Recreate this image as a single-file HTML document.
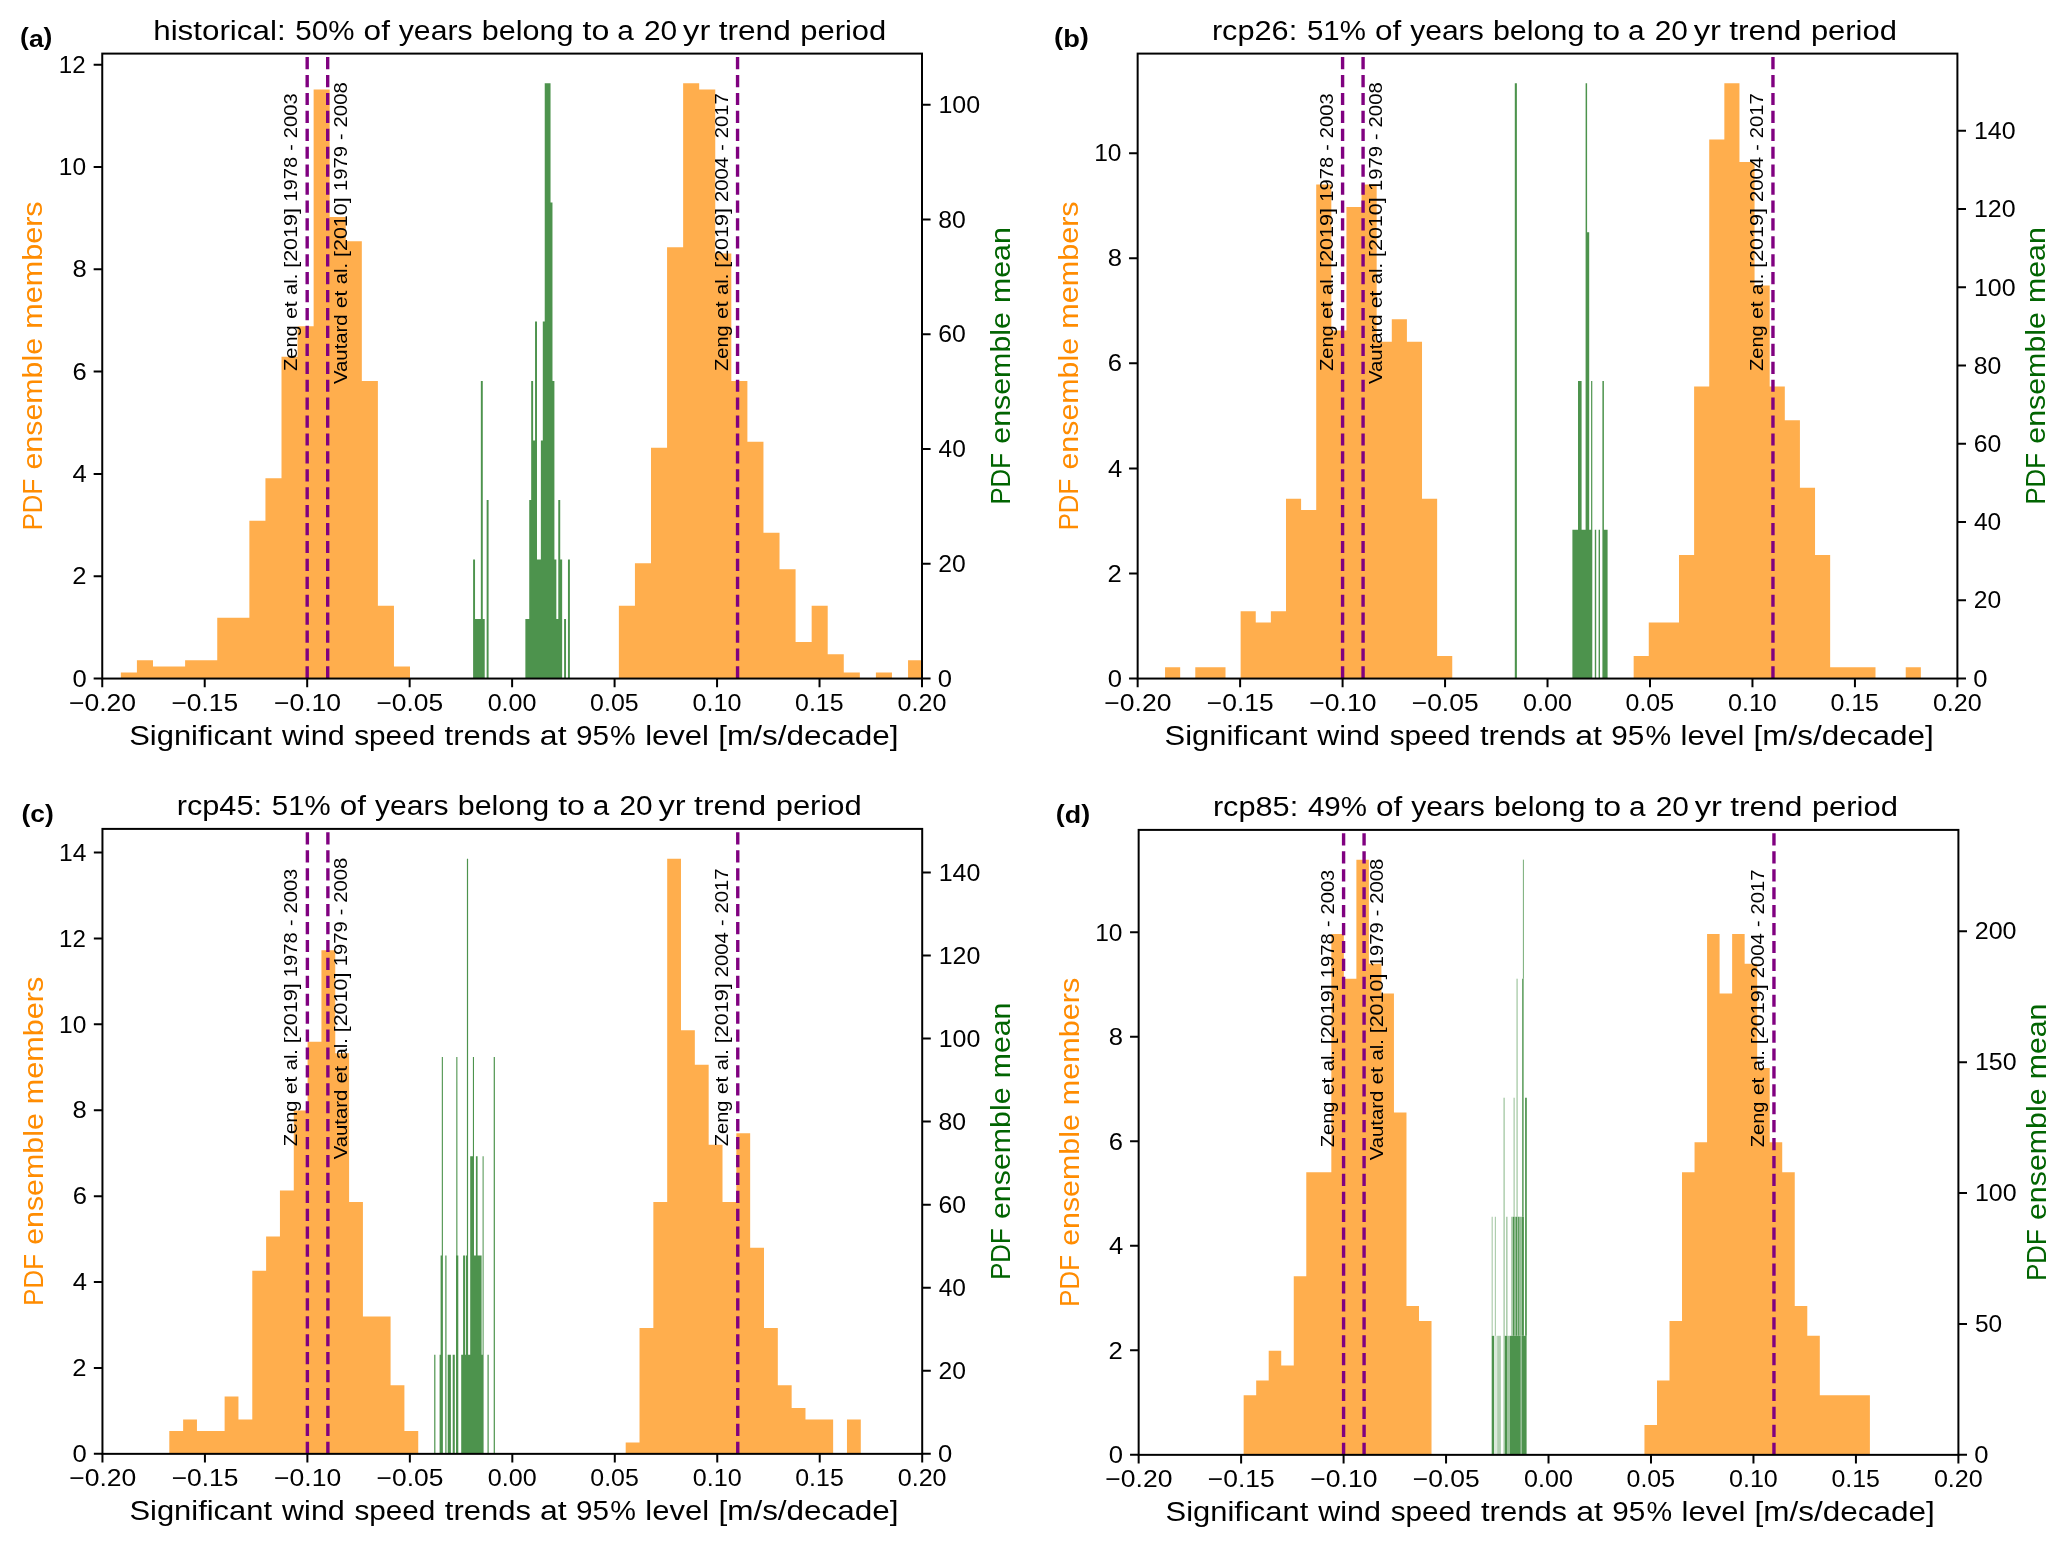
<!DOCTYPE html>
<html lang="en"><head><meta charset="utf-8"><title>Wind speed trend PDFs</title>
<style>html,body{margin:0;padding:0;background:#fff}body{width:2067px;height:1548px;overflow:hidden}svg{display:block}text{font-family:"Liberation Sans",sans-serif;white-space:pre}</style>
</head><body>
<svg width="2067" height="1548" viewBox="0 0 2067 1548">
<rect width="2067" height="1548" fill="#fff"/>
<g opacity="0.999">
<defs><clipPath id="cp"><rect x="102.25" y="53.6" width="819.75" height="624.95"/></clipPath></defs>
<g transform="translate(0 0)">
<g clip-path="url(#cp)">
<path d="M120.85 678.55V672.48H136.91V660.33H152.98V666.4H185.11V660.33H217.24V617.82H249.37V520.64H265.44V478.13H281.5V356.66H297.56V326.29H313.63V89.43H329.7V216.97H345.76V241.27H361.83V380.95H377.89V605.67H393.96V666.4H410.02V678.55Z" fill="#ffae4d"/>
<path d="M618.87 678.55V605.67H634.93V563.16H651V447.76H667.06V247.34H683.13V83.36H699.19V89.43H715.26V253.41H731.32V380.95H747.39V441.69H763.45V532.79H779.52V569.23H795.58V642.11H811.65V605.67H827.71V654.26H843.78V672.48H859.84V678.55Z" fill="#ffae4d"/>
<path d="M875.91 678.55V672.48H891.97V678.55Z" fill="#ffae4d"/>
<path d="M908.04 678.55V660.33H924.1V678.55Z" fill="#ffae4d"/>
<path d="M473.1 678.55V559.51H475.04V619.03H480.84V380.95H482.78V619.03H484.72V678.55Z" fill="#4d934d"/>
<path d="M486.65 678.55V499.99H488.59V678.55Z" fill="#4d934d"/>
<path d="M525.37 678.55V619.03H529.24V499.99H531.18V380.95H533.12V440.47H535.05V321.44H536.99V559.51H540.86V440.47H542.8V321.44H544.73V83.36H550.54V202.4H552.48V380.95H554.41V559.51H556.35V619.03H558.28V499.99H560.22V559.51H562.16V678.55Z" fill="#4d934d"/>
<path d="M564.09 678.55V619.03H566.03V678.55Z" fill="#4d934d"/>
<path d="M567.96 678.55V559.51H569.9V678.55Z" fill="#4d934d"/>
<path d="M307.19 678.55V53.6" stroke="#800080" stroke-width="3.4" stroke-dasharray="12.2 5.72" fill="none"/>
<path d="M327.68 678.55V53.6" stroke="#800080" stroke-width="3.4" stroke-dasharray="12.2 5.72" fill="none"/>
<path d="M737.56 678.55V53.6" stroke="#800080" stroke-width="3.4" stroke-dasharray="12.2 5.72" fill="none"/>
</g>
<text transform="translate(297.29 231.95) rotate(-90)" x="-139.01" y="0" font-size="18.9" fill="#000" textLength="45.72" lengthAdjust="spacingAndGlyphs">Zeng</text>
<text transform="translate(297.29 231.95) rotate(-90)" x="-87.12" y="0" font-size="18.9" fill="#000" textLength="17.78" lengthAdjust="spacingAndGlyphs">et</text>
<text transform="translate(297.29 231.95) rotate(-90)" x="-63.13" y="0" font-size="18.9" fill="#000" textLength="21.37" lengthAdjust="spacingAndGlyphs">al.</text>
<text transform="translate(297.29 231.95) rotate(-90)" x="-35.9" y="0" font-size="18.9" fill="#000" textLength="59.81" lengthAdjust="spacingAndGlyphs">[2019]</text>
<text transform="translate(297.29 231.95) rotate(-90)" x="30.12" y="0" font-size="18.9" fill="#000" textLength="44.98" lengthAdjust="spacingAndGlyphs">1978</text>
<text transform="translate(297.29 231.95) rotate(-90) translate(81.21 0) scale(1.0319 1)" font-size="18.9" fill="#000">-</text>
<text transform="translate(297.29 231.95) rotate(-90)" x="93.75" y="0" font-size="18.9" fill="#000" textLength="44.83" lengthAdjust="spacingAndGlyphs">2003</text>
<text transform="translate(346.58 233) rotate(-90)" x="-150.99" y="0" font-size="18.9" fill="#000" textLength="69.62" lengthAdjust="spacingAndGlyphs">Vautard</text>
<text transform="translate(346.58 233) rotate(-90)" x="-75.26" y="0" font-size="18.9" fill="#000" textLength="17.78" lengthAdjust="spacingAndGlyphs">et</text>
<text transform="translate(346.58 233) rotate(-90)" x="-51.27" y="0" font-size="18.9" fill="#000" textLength="21.37" lengthAdjust="spacingAndGlyphs">al.</text>
<text transform="translate(346.58 233) rotate(-90)" x="-24.04" y="0" font-size="18.9" fill="#000" textLength="59.81" lengthAdjust="spacingAndGlyphs">[2010]</text>
<text transform="translate(346.58 233) rotate(-90)" x="41.98" y="0" font-size="18.9" fill="#000" textLength="44.99" lengthAdjust="spacingAndGlyphs">1979</text>
<text transform="translate(346.58 233) rotate(-90) translate(93.06 0) scale(1.0319 1)" font-size="18.9" fill="#000">-</text>
<text transform="translate(346.58 233) rotate(-90)" x="105.6" y="0" font-size="18.9" fill="#000" textLength="45.11" lengthAdjust="spacingAndGlyphs">2008</text>
<text transform="translate(728.06 231.95) rotate(-90)" x="-139.01" y="0" font-size="18.9" fill="#000" textLength="45.72" lengthAdjust="spacingAndGlyphs">Zeng</text>
<text transform="translate(728.06 231.95) rotate(-90)" x="-87.12" y="0" font-size="18.9" fill="#000" textLength="17.78" lengthAdjust="spacingAndGlyphs">et</text>
<text transform="translate(728.06 231.95) rotate(-90)" x="-63.13" y="0" font-size="18.9" fill="#000" textLength="21.37" lengthAdjust="spacingAndGlyphs">al.</text>
<text transform="translate(728.06 231.95) rotate(-90)" x="-35.9" y="0" font-size="18.9" fill="#000" textLength="59.81" lengthAdjust="spacingAndGlyphs">[2019]</text>
<text transform="translate(728.06 231.95) rotate(-90)" x="29.99" y="0" font-size="18.9" fill="#000" textLength="45.08" lengthAdjust="spacingAndGlyphs">2004</text>
<text transform="translate(728.06 231.95) rotate(-90) translate(81.21 0) scale(1.0319 1)" font-size="18.9" fill="#000">-</text>
<text transform="translate(728.06 231.95) rotate(-90)" x="93.74" y="0" font-size="18.9" fill="#000" textLength="44.94" lengthAdjust="spacingAndGlyphs">2017</text>
<rect x="102.25" y="53.6" width="819.75" height="624.95" fill="none" stroke="#000" stroke-width="2"/>
<text transform="translate(102.25 711)" x="-33.3" y="0" font-size="23.81" fill="#000" textLength="67.11" lengthAdjust="spacingAndGlyphs">−0.20</text>
<text transform="translate(204.72 711)" x="-33.29" y="0" font-size="23.81" fill="#000" textLength="66.78" lengthAdjust="spacingAndGlyphs">−0.15</text>
<text transform="translate(307.19 711)" x="-33.3" y="0" font-size="23.81" fill="#000" textLength="67.11" lengthAdjust="spacingAndGlyphs">−0.10</text>
<text transform="translate(409.66 711)" x="-33.29" y="0" font-size="23.81" fill="#000" textLength="66.78" lengthAdjust="spacingAndGlyphs">−0.05</text>
<text transform="translate(512.12 711)" x="-24.49" y="0" font-size="23.81" fill="#000" textLength="48.84" lengthAdjust="spacingAndGlyphs">0.00</text>
<text transform="translate(614.59 711)" x="-24.48" y="0" font-size="23.81" fill="#000" textLength="48.51" lengthAdjust="spacingAndGlyphs">0.05</text>
<text transform="translate(717.06 711)" x="-24.49" y="0" font-size="23.81" fill="#000" textLength="48.84" lengthAdjust="spacingAndGlyphs">0.10</text>
<text transform="translate(819.53 711)" x="-24.48" y="0" font-size="23.81" fill="#000" textLength="48.51" lengthAdjust="spacingAndGlyphs">0.15</text>
<text transform="translate(922 711)" x="-24.49" y="0" font-size="23.81" fill="#000" textLength="48.84" lengthAdjust="spacingAndGlyphs">0.20</text>
<text transform="translate(86.7 686.7) translate(-14.32 0) scale(1.0762 1)" font-size="23.81" fill="#000">0</text>
<text transform="translate(86.7 584.38) translate(-14.53 0) scale(1.0762 1)" font-size="23.81" fill="#000">2</text>
<text transform="translate(86.7 482.06) translate(-14.18 0) scale(1.0762 1)" font-size="23.81" fill="#000">4</text>
<text transform="translate(86.7 379.74) translate(-14.27 0) scale(1.0762 1)" font-size="23.81" fill="#000">6</text>
<text transform="translate(86.7 277.42) translate(-14.32 0) scale(1.0762 1)" font-size="23.81" fill="#000">8</text>
<text transform="translate(86.7 175.1)" x="-27.88" y="0" font-size="23.81" fill="#000" textLength="27.28" lengthAdjust="spacingAndGlyphs">10</text>
<text transform="translate(86.7 72.78)" x="-27.85" y="0" font-size="23.81" fill="#000" textLength="26.81" lengthAdjust="spacingAndGlyphs">12</text>
<text transform="translate(937.9 686.7) translate(-0.06 0) scale(1.0762 1)" font-size="23.81" fill="#000">0</text>
<text transform="translate(937.9 571.95)" x="0.45" y="0" font-size="23.81" fill="#000" textLength="27.47" lengthAdjust="spacingAndGlyphs">20</text>
<text transform="translate(937.9 457.2)" x="0.63" y="0" font-size="23.81" fill="#000" textLength="27.28" lengthAdjust="spacingAndGlyphs">40</text>
<text transform="translate(937.9 342.45)" x="0.33" y="0" font-size="23.81" fill="#000" textLength="27.59" lengthAdjust="spacingAndGlyphs">60</text>
<text transform="translate(937.9 227.7)" x="0.34" y="0" font-size="23.81" fill="#000" textLength="27.58" lengthAdjust="spacingAndGlyphs">80</text>
<text transform="translate(937.9 112.95)" x="0.59" y="0" font-size="23.81" fill="#000" textLength="41.7" lengthAdjust="spacingAndGlyphs">100</text>
<path d="M102.25 678.55v8.6M204.72 678.55v8.6M307.19 678.55v8.6M409.66 678.55v8.6M512.12 678.55v8.6M614.59 678.55v8.6M717.06 678.55v8.6M819.53 678.55v8.6M922 678.55v8.6M102.25 678.55h-8.6M102.25 576.23h-8.6M102.25 473.91h-8.6M102.25 371.59h-8.6M102.25 269.27h-8.6M102.25 166.95h-8.6M102.25 64.63h-8.6M922 678.55h8.6M922 563.8h8.6M922 449.05h8.6M922 334.3h8.6M922 219.55h8.6M922 104.8h8.6" stroke="#000" stroke-width="2" fill="none"/>
<text transform="translate(0 40)" x="153.21" y="0" font-size="28.35" fill="#000" textLength="132.42" lengthAdjust="spacingAndGlyphs">historical:</text>
<text transform="translate(0 40)" x="295.36" y="0" font-size="28.35" fill="#000" textLength="59.05" lengthAdjust="spacingAndGlyphs">50%</text>
<text transform="translate(0 40)" x="363.61" y="0" font-size="28.35" fill="#000" textLength="26.31" lengthAdjust="spacingAndGlyphs">of</text>
<text transform="translate(0 40)" x="398.79" y="0" font-size="28.35" fill="#000" textLength="73.74" lengthAdjust="spacingAndGlyphs">years</text>
<text transform="translate(0 40)" x="481.81" y="0" font-size="28.35" fill="#000" textLength="91.63" lengthAdjust="spacingAndGlyphs">belong</text>
<text transform="translate(0 40)" x="582.57" y="0" font-size="28.35" fill="#000" textLength="26.81" lengthAdjust="spacingAndGlyphs">to</text>
<text transform="translate(0 40) translate(617.22 0) scale(1.0494 1)" font-size="28.35" fill="#000">a</text>
<text transform="translate(0 40)" x="643.98" y="0" font-size="28.35" fill="#000" textLength="33.25" lengthAdjust="spacingAndGlyphs">20</text>
<text transform="translate(0 40)" x="683.14" y="0" font-size="28.35" fill="#000" textLength="27.21" lengthAdjust="spacingAndGlyphs">yr</text>
<text transform="translate(0 40)" x="718.71" y="0" font-size="28.35" fill="#000" textLength="72.05" lengthAdjust="spacingAndGlyphs">trend</text>
<text transform="translate(0 40)" x="800.31" y="0" font-size="28.35" fill="#000" textLength="85.97" lengthAdjust="spacingAndGlyphs">period</text>
<text transform="translate(0 745)" x="129.21" y="0" font-size="28.35" fill="#000" textLength="142.64" lengthAdjust="spacingAndGlyphs">Significant</text>
<text transform="translate(0 745)" x="281.9" y="0" font-size="28.35" fill="#000" textLength="62.74" lengthAdjust="spacingAndGlyphs">wind</text>
<text transform="translate(0 745)" x="354.27" y="0" font-size="28.35" fill="#000" textLength="80.9" lengthAdjust="spacingAndGlyphs">speed</text>
<text transform="translate(0 745)" x="444.58" y="0" font-size="28.35" fill="#000" textLength="86.14" lengthAdjust="spacingAndGlyphs">trends</text>
<text transform="translate(0 745)" x="539.89" y="0" font-size="28.35" fill="#000" textLength="26.69" lengthAdjust="spacingAndGlyphs">at</text>
<text transform="translate(0 745)" x="575.9" y="0" font-size="28.35" fill="#000" textLength="33.01" lengthAdjust="spacingAndGlyphs">95</text>
<text transform="translate(0 745) translate(610.11 0) scale(1.0178 1)" font-size="28.35" fill="#000">%</text>
<text transform="translate(0 745)" x="645.16" y="0" font-size="28.35" fill="#000" textLength="63.82" lengthAdjust="spacingAndGlyphs">level</text>
<text transform="translate(0 745)" x="718.22" y="0" font-size="28.35" fill="#000" textLength="180.21" lengthAdjust="spacingAndGlyphs">[m/s/decade]</text>
<text transform="translate(42.4 366.07) rotate(-90)" x="-164.29" y="0" font-size="28.35" fill="#ff8c00" textLength="51.56" lengthAdjust="spacingAndGlyphs">PDF</text>
<text transform="translate(42.4 366.07) rotate(-90)" x="-103.47" y="0" font-size="28.35" fill="#ff8c00" textLength="131.67" lengthAdjust="spacingAndGlyphs">ensemble</text>
<text transform="translate(42.4 366.07) rotate(-90)" x="37.24" y="0" font-size="28.35" fill="#ff8c00" textLength="127.46" lengthAdjust="spacingAndGlyphs">members</text>
<text transform="translate(1009.7 366.07) rotate(-90)" x="-138.51" y="0" font-size="28.35" fill="#006400" textLength="51.56" lengthAdjust="spacingAndGlyphs">PDF</text>
<text transform="translate(1009.7 366.07) rotate(-90)" x="-77.69" y="0" font-size="28.35" fill="#006400" textLength="131.67" lengthAdjust="spacingAndGlyphs">ensemble</text>
<text transform="translate(1009.7 366.07) rotate(-90)" x="63.04" y="0" font-size="28.35" fill="#006400" textLength="75.81" lengthAdjust="spacingAndGlyphs">mean</text>
<text transform="translate(0 44.9)" x="20.08" y="0" font-size="23.9" fill="#000" font-weight="bold" textLength="32.38" lengthAdjust="spacingAndGlyphs">(<tspan dy="1.6">a</tspan><tspan dy="-1.6">)</tspan></text>
</g>
<g transform="translate(1035.4 0)">
<g clip-path="url(#cp)">
<path d="M129.65 678.55V667.32H144.77V678.55Z" fill="#ffae4d"/>
<path d="M159.88 678.55V667.32H190.11V678.55Z" fill="#ffae4d"/>
<path d="M205.23 678.55V611.17H220.35V622.4H235.46V611.17H250.58V498.87H265.69V510.1H280.81V184.43H295.93V330.42H311.04V206.89H326.16V184.43H341.27V341.65H356.39V319.19H371.51V341.65H386.62V498.87H401.74V656.09H416.85V678.55Z" fill="#ffae4d"/>
<path d="M598.25 678.55V656.09H613.36V622.4H643.59V555.02H658.71V386.57H673.83V139.51H688.94V83.36H704.06V161.97H719.17V285.5H734.29V386.57H749.41V420.26H764.52V487.64H779.64V555.02H794.75V667.32H840.1V678.55Z" fill="#ffae4d"/>
<path d="M870.33 678.55V667.32H885.45V678.55Z" fill="#ffae4d"/>
<path d="M479.4 678.55V83.36H481.5V678.55Z" fill="#4d934d"/>
<path d="M537 678.55V529.75H542.6V380.95H546.2V529.75H550.2V83.36H551.7V232.16H553.8V529.75H555.7V380.95H556.9V678.55Z" fill="#4d934d"/>
<path d="M559.4 678.55V529.75H560.8V678.55Z" fill="#4d934d"/>
<path d="M563.2 678.55V529.75H564.6V678.55Z" fill="#4d934d"/>
<path d="M567 678.55V380.95H568.5V529.75H572.2V678.55Z" fill="#4d934d"/>
<path d="M307.19 678.55V53.6" stroke="#800080" stroke-width="3.4" stroke-dasharray="12.2 5.72" fill="none"/>
<path d="M327.68 678.55V53.6" stroke="#800080" stroke-width="3.4" stroke-dasharray="12.2 5.72" fill="none"/>
<path d="M737.56 678.55V53.6" stroke="#800080" stroke-width="3.4" stroke-dasharray="12.2 5.72" fill="none"/>
</g>
<text transform="translate(297.29 231.95) rotate(-90)" x="-139.01" y="0" font-size="18.9" fill="#000" textLength="45.72" lengthAdjust="spacingAndGlyphs">Zeng</text>
<text transform="translate(297.29 231.95) rotate(-90)" x="-87.12" y="0" font-size="18.9" fill="#000" textLength="17.78" lengthAdjust="spacingAndGlyphs">et</text>
<text transform="translate(297.29 231.95) rotate(-90)" x="-63.13" y="0" font-size="18.9" fill="#000" textLength="21.37" lengthAdjust="spacingAndGlyphs">al.</text>
<text transform="translate(297.29 231.95) rotate(-90)" x="-35.9" y="0" font-size="18.9" fill="#000" textLength="59.81" lengthAdjust="spacingAndGlyphs">[2019]</text>
<text transform="translate(297.29 231.95) rotate(-90)" x="30.12" y="0" font-size="18.9" fill="#000" textLength="44.98" lengthAdjust="spacingAndGlyphs">1978</text>
<text transform="translate(297.29 231.95) rotate(-90) translate(81.21 0) scale(1.0319 1)" font-size="18.9" fill="#000">-</text>
<text transform="translate(297.29 231.95) rotate(-90)" x="93.75" y="0" font-size="18.9" fill="#000" textLength="44.83" lengthAdjust="spacingAndGlyphs">2003</text>
<text transform="translate(346.58 233) rotate(-90)" x="-150.99" y="0" font-size="18.9" fill="#000" textLength="69.62" lengthAdjust="spacingAndGlyphs">Vautard</text>
<text transform="translate(346.58 233) rotate(-90)" x="-75.26" y="0" font-size="18.9" fill="#000" textLength="17.78" lengthAdjust="spacingAndGlyphs">et</text>
<text transform="translate(346.58 233) rotate(-90)" x="-51.27" y="0" font-size="18.9" fill="#000" textLength="21.37" lengthAdjust="spacingAndGlyphs">al.</text>
<text transform="translate(346.58 233) rotate(-90)" x="-24.04" y="0" font-size="18.9" fill="#000" textLength="59.81" lengthAdjust="spacingAndGlyphs">[2010]</text>
<text transform="translate(346.58 233) rotate(-90)" x="41.98" y="0" font-size="18.9" fill="#000" textLength="44.99" lengthAdjust="spacingAndGlyphs">1979</text>
<text transform="translate(346.58 233) rotate(-90) translate(93.06 0) scale(1.0319 1)" font-size="18.9" fill="#000">-</text>
<text transform="translate(346.58 233) rotate(-90)" x="105.6" y="0" font-size="18.9" fill="#000" textLength="45.11" lengthAdjust="spacingAndGlyphs">2008</text>
<text transform="translate(728.06 231.95) rotate(-90)" x="-139.01" y="0" font-size="18.9" fill="#000" textLength="45.72" lengthAdjust="spacingAndGlyphs">Zeng</text>
<text transform="translate(728.06 231.95) rotate(-90)" x="-87.12" y="0" font-size="18.9" fill="#000" textLength="17.78" lengthAdjust="spacingAndGlyphs">et</text>
<text transform="translate(728.06 231.95) rotate(-90)" x="-63.13" y="0" font-size="18.9" fill="#000" textLength="21.37" lengthAdjust="spacingAndGlyphs">al.</text>
<text transform="translate(728.06 231.95) rotate(-90)" x="-35.9" y="0" font-size="18.9" fill="#000" textLength="59.81" lengthAdjust="spacingAndGlyphs">[2019]</text>
<text transform="translate(728.06 231.95) rotate(-90)" x="29.99" y="0" font-size="18.9" fill="#000" textLength="45.08" lengthAdjust="spacingAndGlyphs">2004</text>
<text transform="translate(728.06 231.95) rotate(-90) translate(81.21 0) scale(1.0319 1)" font-size="18.9" fill="#000">-</text>
<text transform="translate(728.06 231.95) rotate(-90)" x="93.74" y="0" font-size="18.9" fill="#000" textLength="44.94" lengthAdjust="spacingAndGlyphs">2017</text>
<rect x="102.25" y="53.6" width="819.75" height="624.95" fill="none" stroke="#000" stroke-width="2"/>
<text transform="translate(102.25 711)" x="-33.3" y="0" font-size="23.81" fill="#000" textLength="67.11" lengthAdjust="spacingAndGlyphs">−0.20</text>
<text transform="translate(204.72 711)" x="-33.29" y="0" font-size="23.81" fill="#000" textLength="66.78" lengthAdjust="spacingAndGlyphs">−0.15</text>
<text transform="translate(307.19 711)" x="-33.3" y="0" font-size="23.81" fill="#000" textLength="67.11" lengthAdjust="spacingAndGlyphs">−0.10</text>
<text transform="translate(409.66 711)" x="-33.29" y="0" font-size="23.81" fill="#000" textLength="66.78" lengthAdjust="spacingAndGlyphs">−0.05</text>
<text transform="translate(512.12 711)" x="-24.49" y="0" font-size="23.81" fill="#000" textLength="48.84" lengthAdjust="spacingAndGlyphs">0.00</text>
<text transform="translate(614.59 711)" x="-24.48" y="0" font-size="23.81" fill="#000" textLength="48.51" lengthAdjust="spacingAndGlyphs">0.05</text>
<text transform="translate(717.06 711)" x="-24.49" y="0" font-size="23.81" fill="#000" textLength="48.84" lengthAdjust="spacingAndGlyphs">0.10</text>
<text transform="translate(819.53 711)" x="-24.48" y="0" font-size="23.81" fill="#000" textLength="48.51" lengthAdjust="spacingAndGlyphs">0.15</text>
<text transform="translate(922 711)" x="-24.49" y="0" font-size="23.81" fill="#000" textLength="48.84" lengthAdjust="spacingAndGlyphs">0.20</text>
<text transform="translate(86.7 686.7) translate(-14.32 0) scale(1.0762 1)" font-size="23.81" fill="#000">0</text>
<text transform="translate(86.7 581.63) translate(-14.53 0) scale(1.0762 1)" font-size="23.81" fill="#000">2</text>
<text transform="translate(86.7 476.56) translate(-14.18 0) scale(1.0762 1)" font-size="23.81" fill="#000">4</text>
<text transform="translate(86.7 371.49) translate(-14.27 0) scale(1.0762 1)" font-size="23.81" fill="#000">6</text>
<text transform="translate(86.7 266.42) translate(-14.32 0) scale(1.0762 1)" font-size="23.81" fill="#000">8</text>
<text transform="translate(86.7 161.35)" x="-27.88" y="0" font-size="23.81" fill="#000" textLength="27.28" lengthAdjust="spacingAndGlyphs">10</text>
<text transform="translate(937.9 686.7) translate(-0.06 0) scale(1.0762 1)" font-size="23.81" fill="#000">0</text>
<text transform="translate(937.9 608.46)" x="0.45" y="0" font-size="23.81" fill="#000" textLength="27.47" lengthAdjust="spacingAndGlyphs">20</text>
<text transform="translate(937.9 530.22)" x="0.63" y="0" font-size="23.81" fill="#000" textLength="27.28" lengthAdjust="spacingAndGlyphs">40</text>
<text transform="translate(937.9 451.98)" x="0.33" y="0" font-size="23.81" fill="#000" textLength="27.59" lengthAdjust="spacingAndGlyphs">60</text>
<text transform="translate(937.9 373.74)" x="0.34" y="0" font-size="23.81" fill="#000" textLength="27.58" lengthAdjust="spacingAndGlyphs">80</text>
<text transform="translate(937.9 295.5)" x="0.59" y="0" font-size="23.81" fill="#000" textLength="41.7" lengthAdjust="spacingAndGlyphs">100</text>
<text transform="translate(937.9 217.26)" x="0.59" y="0" font-size="23.81" fill="#000" textLength="41.7" lengthAdjust="spacingAndGlyphs">120</text>
<text transform="translate(937.9 139.02)" x="0.59" y="0" font-size="23.81" fill="#000" textLength="41.7" lengthAdjust="spacingAndGlyphs">140</text>
<path d="M102.25 678.55v8.6M204.72 678.55v8.6M307.19 678.55v8.6M409.66 678.55v8.6M512.12 678.55v8.6M614.59 678.55v8.6M717.06 678.55v8.6M819.53 678.55v8.6M922 678.55v8.6M102.25 678.55h-8.6M102.25 573.48h-8.6M102.25 468.41h-8.6M102.25 363.34h-8.6M102.25 258.27h-8.6M102.25 153.2h-8.6M922 678.55h8.6M922 600.31h8.6M922 522.07h8.6M922 443.83h8.6M922 365.59h8.6M922 287.35h8.6M922 209.11h8.6M922 130.87h8.6" stroke="#000" stroke-width="2" fill="none"/>
<text transform="translate(0 40)" x="176.5" y="0" font-size="28.35" fill="#000" textLength="85.33" lengthAdjust="spacingAndGlyphs">rcp26:</text>
<text transform="translate(0 40)" x="271.58" y="0" font-size="28.35" fill="#000" textLength="58.9" lengthAdjust="spacingAndGlyphs">51%</text>
<text transform="translate(0 40)" x="339.66" y="0" font-size="28.35" fill="#000" textLength="26.24" lengthAdjust="spacingAndGlyphs">of</text>
<text transform="translate(0 40)" x="374.74" y="0" font-size="28.35" fill="#000" textLength="73.54" lengthAdjust="spacingAndGlyphs">years</text>
<text transform="translate(0 40)" x="457.54" y="0" font-size="28.35" fill="#000" textLength="91.38" lengthAdjust="spacingAndGlyphs">belong</text>
<text transform="translate(0 40)" x="558.03" y="0" font-size="28.35" fill="#000" textLength="26.74" lengthAdjust="spacingAndGlyphs">to</text>
<text transform="translate(0 40) translate(592.56 0) scale(1.0494 1)" font-size="28.35" fill="#000">a</text>
<text transform="translate(0 40)" x="619.28" y="0" font-size="28.35" fill="#000" textLength="33.16" lengthAdjust="spacingAndGlyphs">20</text>
<text transform="translate(0 40)" x="658.34" y="0" font-size="28.35" fill="#000" textLength="27.21" lengthAdjust="spacingAndGlyphs">yr</text>
<text transform="translate(0 40)" x="693.91" y="0" font-size="28.35" fill="#000" textLength="72.05" lengthAdjust="spacingAndGlyphs">trend</text>
<text transform="translate(0 40)" x="775.51" y="0" font-size="28.35" fill="#000" textLength="85.97" lengthAdjust="spacingAndGlyphs">period</text>
<text transform="translate(0 745)" x="129.21" y="0" font-size="28.35" fill="#000" textLength="142.64" lengthAdjust="spacingAndGlyphs">Significant</text>
<text transform="translate(0 745)" x="281.9" y="0" font-size="28.35" fill="#000" textLength="62.74" lengthAdjust="spacingAndGlyphs">wind</text>
<text transform="translate(0 745)" x="354.27" y="0" font-size="28.35" fill="#000" textLength="80.9" lengthAdjust="spacingAndGlyphs">speed</text>
<text transform="translate(0 745)" x="444.58" y="0" font-size="28.35" fill="#000" textLength="86.14" lengthAdjust="spacingAndGlyphs">trends</text>
<text transform="translate(0 745)" x="539.89" y="0" font-size="28.35" fill="#000" textLength="26.69" lengthAdjust="spacingAndGlyphs">at</text>
<text transform="translate(0 745)" x="575.9" y="0" font-size="28.35" fill="#000" textLength="33.01" lengthAdjust="spacingAndGlyphs">95</text>
<text transform="translate(0 745) translate(610.11 0) scale(1.0178 1)" font-size="28.35" fill="#000">%</text>
<text transform="translate(0 745)" x="645.16" y="0" font-size="28.35" fill="#000" textLength="63.82" lengthAdjust="spacingAndGlyphs">level</text>
<text transform="translate(0 745)" x="718.22" y="0" font-size="28.35" fill="#000" textLength="180.21" lengthAdjust="spacingAndGlyphs">[m/s/decade]</text>
<text transform="translate(42.4 366.07) rotate(-90)" x="-164.29" y="0" font-size="28.35" fill="#ff8c00" textLength="51.56" lengthAdjust="spacingAndGlyphs">PDF</text>
<text transform="translate(42.4 366.07) rotate(-90)" x="-103.47" y="0" font-size="28.35" fill="#ff8c00" textLength="131.67" lengthAdjust="spacingAndGlyphs">ensemble</text>
<text transform="translate(42.4 366.07) rotate(-90)" x="37.24" y="0" font-size="28.35" fill="#ff8c00" textLength="127.46" lengthAdjust="spacingAndGlyphs">members</text>
<text transform="translate(1009.7 366.07) rotate(-90)" x="-138.51" y="0" font-size="28.35" fill="#006400" textLength="51.56" lengthAdjust="spacingAndGlyphs">PDF</text>
<text transform="translate(1009.7 366.07) rotate(-90)" x="-77.69" y="0" font-size="28.35" fill="#006400" textLength="131.67" lengthAdjust="spacingAndGlyphs">ensemble</text>
<text transform="translate(1009.7 366.07) rotate(-90)" x="63.04" y="0" font-size="28.35" fill="#006400" textLength="75.81" lengthAdjust="spacingAndGlyphs">mean</text>
<text transform="translate(0 44.9)" x="18.64" y="0" font-size="23.9" fill="#000" font-weight="bold" textLength="34.85" lengthAdjust="spacingAndGlyphs">(<tspan dy="1.9">b</tspan><tspan dy="-1.9">)</tspan></text>
</g>
<g transform="translate(0.2 775.3)">
<g clip-path="url(#cp)">
<path d="M169.1 678.55V655.66H182.93V644.21H196.76V655.66H224.42V621.32H238.25V644.21H252.08V495.41H265.91V461.08H279.74V415.29H293.57V335.17H307.4V266.5H321.23V174.93H335.06V277.94H348.89V426.74H362.72V541.2H390.38V609.87H404.21V655.66H418.04V678.55Z" fill="#ffae4d"/>
<path d="M625.49 678.55V667.1H639.32V552.64H653.15V426.74H666.98V83.36H680.81V255.05H694.64V289.39H708.47V369.51H722.3V426.74H736.13V358.06H749.96V472.52H763.79V552.64H777.62V609.87H791.45V632.77H805.28V644.21H832.94V678.55Z" fill="#ffae4d"/>
<path d="M846.77 678.55V644.21H860.6V678.55Z" fill="#ffae4d"/>
<path d="M434 678.55V579.35H435.2V678.55Z" fill="#4d934d"/>
<path d="M439.4 678.55V579.35H440.4V480.15H441.6V281.76H442.7V678.55Z" fill="#4d934d"/>
<path d="M445.1 678.55V480.15H446.3V678.55Z" fill="#4d934d"/>
<path d="M447.5 678.55V579.35H450.7V678.55Z" fill="#4d934d"/>
<path d="M452.5 678.55V579.35H454.6V678.55Z" fill="#4d934d"/>
<path d="M455.8 678.55V480.15H456.1V281.76H457.2V480.15H458.1V678.55Z" fill="#4d934d"/>
<path d="M461 678.55V579.35H462.9V480.15H464.9V579.35H465.7V480.15H466.7V83.36H467.9V579.35H470V380.95H472.7V281.76H473.8V480.15H475.7V380.95H477.4V480.15H481.4V579.35H482.4V380.95H483.4V678.55Z" fill="#4d934d"/>
<path d="M487.3 678.55V579.35H488.5V678.55Z" fill="#4d934d"/>
<path d="M493.5 678.55V281.76H494.7V678.55Z" fill="#4d934d"/>
<path d="M307.19 678.55V53.6" stroke="#800080" stroke-width="3.4" stroke-dasharray="12.2 5.72" fill="none"/>
<path d="M327.68 678.55V53.6" stroke="#800080" stroke-width="3.4" stroke-dasharray="12.2 5.72" fill="none"/>
<path d="M737.56 678.55V53.6" stroke="#800080" stroke-width="3.4" stroke-dasharray="12.2 5.72" fill="none"/>
</g>
<text transform="translate(297.29 231.95) rotate(-90)" x="-139.01" y="0" font-size="18.9" fill="#000" textLength="45.72" lengthAdjust="spacingAndGlyphs">Zeng</text>
<text transform="translate(297.29 231.95) rotate(-90)" x="-87.12" y="0" font-size="18.9" fill="#000" textLength="17.78" lengthAdjust="spacingAndGlyphs">et</text>
<text transform="translate(297.29 231.95) rotate(-90)" x="-63.13" y="0" font-size="18.9" fill="#000" textLength="21.37" lengthAdjust="spacingAndGlyphs">al.</text>
<text transform="translate(297.29 231.95) rotate(-90)" x="-35.9" y="0" font-size="18.9" fill="#000" textLength="59.81" lengthAdjust="spacingAndGlyphs">[2019]</text>
<text transform="translate(297.29 231.95) rotate(-90)" x="30.12" y="0" font-size="18.9" fill="#000" textLength="44.98" lengthAdjust="spacingAndGlyphs">1978</text>
<text transform="translate(297.29 231.95) rotate(-90) translate(81.21 0) scale(1.0319 1)" font-size="18.9" fill="#000">-</text>
<text transform="translate(297.29 231.95) rotate(-90)" x="93.75" y="0" font-size="18.9" fill="#000" textLength="44.83" lengthAdjust="spacingAndGlyphs">2003</text>
<text transform="translate(346.58 233) rotate(-90)" x="-150.99" y="0" font-size="18.9" fill="#000" textLength="69.62" lengthAdjust="spacingAndGlyphs">Vautard</text>
<text transform="translate(346.58 233) rotate(-90)" x="-75.26" y="0" font-size="18.9" fill="#000" textLength="17.78" lengthAdjust="spacingAndGlyphs">et</text>
<text transform="translate(346.58 233) rotate(-90)" x="-51.27" y="0" font-size="18.9" fill="#000" textLength="21.37" lengthAdjust="spacingAndGlyphs">al.</text>
<text transform="translate(346.58 233) rotate(-90)" x="-24.04" y="0" font-size="18.9" fill="#000" textLength="59.81" lengthAdjust="spacingAndGlyphs">[2010]</text>
<text transform="translate(346.58 233) rotate(-90)" x="41.98" y="0" font-size="18.9" fill="#000" textLength="44.99" lengthAdjust="spacingAndGlyphs">1979</text>
<text transform="translate(346.58 233) rotate(-90) translate(93.06 0) scale(1.0319 1)" font-size="18.9" fill="#000">-</text>
<text transform="translate(346.58 233) rotate(-90)" x="105.6" y="0" font-size="18.9" fill="#000" textLength="45.11" lengthAdjust="spacingAndGlyphs">2008</text>
<text transform="translate(728.06 231.95) rotate(-90)" x="-139.01" y="0" font-size="18.9" fill="#000" textLength="45.72" lengthAdjust="spacingAndGlyphs">Zeng</text>
<text transform="translate(728.06 231.95) rotate(-90)" x="-87.12" y="0" font-size="18.9" fill="#000" textLength="17.78" lengthAdjust="spacingAndGlyphs">et</text>
<text transform="translate(728.06 231.95) rotate(-90)" x="-63.13" y="0" font-size="18.9" fill="#000" textLength="21.37" lengthAdjust="spacingAndGlyphs">al.</text>
<text transform="translate(728.06 231.95) rotate(-90)" x="-35.9" y="0" font-size="18.9" fill="#000" textLength="59.81" lengthAdjust="spacingAndGlyphs">[2019]</text>
<text transform="translate(728.06 231.95) rotate(-90)" x="29.99" y="0" font-size="18.9" fill="#000" textLength="45.08" lengthAdjust="spacingAndGlyphs">2004</text>
<text transform="translate(728.06 231.95) rotate(-90) translate(81.21 0) scale(1.0319 1)" font-size="18.9" fill="#000">-</text>
<text transform="translate(728.06 231.95) rotate(-90)" x="93.74" y="0" font-size="18.9" fill="#000" textLength="44.94" lengthAdjust="spacingAndGlyphs">2017</text>
<rect x="102.25" y="53.6" width="819.75" height="624.95" fill="none" stroke="#000" stroke-width="2"/>
<text transform="translate(102.25 711)" x="-33.3" y="0" font-size="23.81" fill="#000" textLength="67.11" lengthAdjust="spacingAndGlyphs">−0.20</text>
<text transform="translate(204.72 711)" x="-33.29" y="0" font-size="23.81" fill="#000" textLength="66.78" lengthAdjust="spacingAndGlyphs">−0.15</text>
<text transform="translate(307.19 711)" x="-33.3" y="0" font-size="23.81" fill="#000" textLength="67.11" lengthAdjust="spacingAndGlyphs">−0.10</text>
<text transform="translate(409.66 711)" x="-33.29" y="0" font-size="23.81" fill="#000" textLength="66.78" lengthAdjust="spacingAndGlyphs">−0.05</text>
<text transform="translate(512.12 711)" x="-24.49" y="0" font-size="23.81" fill="#000" textLength="48.84" lengthAdjust="spacingAndGlyphs">0.00</text>
<text transform="translate(614.59 711)" x="-24.48" y="0" font-size="23.81" fill="#000" textLength="48.51" lengthAdjust="spacingAndGlyphs">0.05</text>
<text transform="translate(717.06 711)" x="-24.49" y="0" font-size="23.81" fill="#000" textLength="48.84" lengthAdjust="spacingAndGlyphs">0.10</text>
<text transform="translate(819.53 711)" x="-24.48" y="0" font-size="23.81" fill="#000" textLength="48.51" lengthAdjust="spacingAndGlyphs">0.15</text>
<text transform="translate(922 711)" x="-24.49" y="0" font-size="23.81" fill="#000" textLength="48.84" lengthAdjust="spacingAndGlyphs">0.20</text>
<text transform="translate(86.7 686.7) translate(-14.32 0) scale(1.0762 1)" font-size="23.81" fill="#000">0</text>
<text transform="translate(86.7 600.8) translate(-14.53 0) scale(1.0762 1)" font-size="23.81" fill="#000">2</text>
<text transform="translate(86.7 514.9) translate(-14.18 0) scale(1.0762 1)" font-size="23.81" fill="#000">4</text>
<text transform="translate(86.7 429) translate(-14.27 0) scale(1.0762 1)" font-size="23.81" fill="#000">6</text>
<text transform="translate(86.7 343.1) translate(-14.32 0) scale(1.0762 1)" font-size="23.81" fill="#000">8</text>
<text transform="translate(86.7 257.2)" x="-27.88" y="0" font-size="23.81" fill="#000" textLength="27.28" lengthAdjust="spacingAndGlyphs">10</text>
<text transform="translate(86.7 171.3)" x="-27.85" y="0" font-size="23.81" fill="#000" textLength="26.81" lengthAdjust="spacingAndGlyphs">12</text>
<text transform="translate(86.7 85.4)" x="-27.89" y="0" font-size="23.81" fill="#000" textLength="27.4" lengthAdjust="spacingAndGlyphs">14</text>
<text transform="translate(937.9 686.7) translate(-0.06 0) scale(1.0762 1)" font-size="23.81" fill="#000">0</text>
<text transform="translate(937.9 603.64)" x="0.45" y="0" font-size="23.81" fill="#000" textLength="27.47" lengthAdjust="spacingAndGlyphs">20</text>
<text transform="translate(937.9 520.58)" x="0.63" y="0" font-size="23.81" fill="#000" textLength="27.28" lengthAdjust="spacingAndGlyphs">40</text>
<text transform="translate(937.9 437.52)" x="0.33" y="0" font-size="23.81" fill="#000" textLength="27.59" lengthAdjust="spacingAndGlyphs">60</text>
<text transform="translate(937.9 354.46)" x="0.34" y="0" font-size="23.81" fill="#000" textLength="27.58" lengthAdjust="spacingAndGlyphs">80</text>
<text transform="translate(937.9 271.4)" x="0.59" y="0" font-size="23.81" fill="#000" textLength="41.7" lengthAdjust="spacingAndGlyphs">100</text>
<text transform="translate(937.9 188.34)" x="0.59" y="0" font-size="23.81" fill="#000" textLength="41.7" lengthAdjust="spacingAndGlyphs">120</text>
<text transform="translate(937.9 105.28)" x="0.59" y="0" font-size="23.81" fill="#000" textLength="41.7" lengthAdjust="spacingAndGlyphs">140</text>
<path d="M102.25 678.55v8.6M204.72 678.55v8.6M307.19 678.55v8.6M409.66 678.55v8.6M512.12 678.55v8.6M614.59 678.55v8.6M717.06 678.55v8.6M819.53 678.55v8.6M922 678.55v8.6M102.25 678.55h-8.6M102.25 592.65h-8.6M102.25 506.75h-8.6M102.25 420.85h-8.6M102.25 334.95h-8.6M102.25 249.05h-8.6M102.25 163.15h-8.6M102.25 77.25h-8.6M922 678.55h8.6M922 595.49h8.6M922 512.43h8.6M922 429.37h8.6M922 346.31h8.6M922 263.25h8.6M922 180.19h8.6M922 97.13h8.6" stroke="#000" stroke-width="2" fill="none"/>
<text transform="translate(0 40.1)" x="176.5" y="0" font-size="28.35" fill="#000" textLength="85.33" lengthAdjust="spacingAndGlyphs">rcp45:</text>
<text transform="translate(0 40.1)" x="271.58" y="0" font-size="28.35" fill="#000" textLength="58.9" lengthAdjust="spacingAndGlyphs">51%</text>
<text transform="translate(0 40.1)" x="339.66" y="0" font-size="28.35" fill="#000" textLength="26.24" lengthAdjust="spacingAndGlyphs">of</text>
<text transform="translate(0 40.1)" x="374.74" y="0" font-size="28.35" fill="#000" textLength="73.54" lengthAdjust="spacingAndGlyphs">years</text>
<text transform="translate(0 40.1)" x="457.54" y="0" font-size="28.35" fill="#000" textLength="91.38" lengthAdjust="spacingAndGlyphs">belong</text>
<text transform="translate(0 40.1)" x="558.03" y="0" font-size="28.35" fill="#000" textLength="26.74" lengthAdjust="spacingAndGlyphs">to</text>
<text transform="translate(0 40.1) translate(592.56 0) scale(1.0494 1)" font-size="28.35" fill="#000">a</text>
<text transform="translate(0 40.1)" x="619.28" y="0" font-size="28.35" fill="#000" textLength="33.16" lengthAdjust="spacingAndGlyphs">20</text>
<text transform="translate(0 40.1)" x="658.34" y="0" font-size="28.35" fill="#000" textLength="27.21" lengthAdjust="spacingAndGlyphs">yr</text>
<text transform="translate(0 40.1)" x="693.91" y="0" font-size="28.35" fill="#000" textLength="72.05" lengthAdjust="spacingAndGlyphs">trend</text>
<text transform="translate(0 40.1)" x="775.51" y="0" font-size="28.35" fill="#000" textLength="85.97" lengthAdjust="spacingAndGlyphs">period</text>
<text transform="translate(0 745)" x="129.21" y="0" font-size="28.35" fill="#000" textLength="142.64" lengthAdjust="spacingAndGlyphs">Significant</text>
<text transform="translate(0 745)" x="281.9" y="0" font-size="28.35" fill="#000" textLength="62.74" lengthAdjust="spacingAndGlyphs">wind</text>
<text transform="translate(0 745)" x="354.27" y="0" font-size="28.35" fill="#000" textLength="80.9" lengthAdjust="spacingAndGlyphs">speed</text>
<text transform="translate(0 745)" x="444.58" y="0" font-size="28.35" fill="#000" textLength="86.14" lengthAdjust="spacingAndGlyphs">trends</text>
<text transform="translate(0 745)" x="539.89" y="0" font-size="28.35" fill="#000" textLength="26.69" lengthAdjust="spacingAndGlyphs">at</text>
<text transform="translate(0 745)" x="575.9" y="0" font-size="28.35" fill="#000" textLength="33.01" lengthAdjust="spacingAndGlyphs">95</text>
<text transform="translate(0 745) translate(610.11 0) scale(1.0178 1)" font-size="28.35" fill="#000">%</text>
<text transform="translate(0 745)" x="645.16" y="0" font-size="28.35" fill="#000" textLength="63.82" lengthAdjust="spacingAndGlyphs">level</text>
<text transform="translate(0 745)" x="718.22" y="0" font-size="28.35" fill="#000" textLength="180.21" lengthAdjust="spacingAndGlyphs">[m/s/decade]</text>
<text transform="translate(42.4 366.07) rotate(-90)" x="-164.29" y="0" font-size="28.35" fill="#ff8c00" textLength="51.56" lengthAdjust="spacingAndGlyphs">PDF</text>
<text transform="translate(42.4 366.07) rotate(-90)" x="-103.47" y="0" font-size="28.35" fill="#ff8c00" textLength="131.67" lengthAdjust="spacingAndGlyphs">ensemble</text>
<text transform="translate(42.4 366.07) rotate(-90)" x="37.24" y="0" font-size="28.35" fill="#ff8c00" textLength="127.46" lengthAdjust="spacingAndGlyphs">members</text>
<text transform="translate(1009.7 366.07) rotate(-90)" x="-138.51" y="0" font-size="28.35" fill="#006400" textLength="51.56" lengthAdjust="spacingAndGlyphs">PDF</text>
<text transform="translate(1009.7 366.07) rotate(-90)" x="-77.69" y="0" font-size="28.35" fill="#006400" textLength="131.67" lengthAdjust="spacingAndGlyphs">ensemble</text>
<text transform="translate(1009.7 366.07) rotate(-90)" x="63.04" y="0" font-size="28.35" fill="#006400" textLength="75.81" lengthAdjust="spacingAndGlyphs">mean</text>
<text transform="translate(0 46.8)" x="21.28" y="0" font-size="23.9" fill="#000" font-weight="bold" textLength="32.38" lengthAdjust="spacingAndGlyphs">(<tspan dy="-0.3">c</tspan><tspan dy="0.3">)</tspan></text>
</g>
<g transform="translate(1036.4 776.3)">
<g clip-path="url(#cp)">
<path d="M207.25 678.55V619.03H219.78V604.15H232.3V574.39H244.82V589.27H257.35V499.99H269.88V395.83H294.93V157.76H307.45V202.4H319.98V83.36H332.5V187.52H345.02V217.28H357.55V336.32H370.08V529.75H382.6V544.63H395.12V678.55Z" fill="#ffae4d"/>
<path d="M608.05 678.55V648.79H620.58V604.15H633.1V544.63H645.62V395.83H658.15V366.07H670.67V157.76H683.2V217.28H695.73V157.76H708.25V187.52H720.77V291.68H733.3V366.07H745.83V395.83H758.35V529.75H770.88V559.51H783.4V619.03H833.5V678.55Z" fill="#ffae4d"/>
<rect x="455.3" y="559.51" width="2.3" height="119.04" fill="#4d934d"/>
<rect x="457.6" y="559.51" width="3.2" height="119.04" fill="#4d934d" opacity="0.2"/>
<rect x="460.8" y="559.51" width="3.7" height="119.04" fill="#4d934d" opacity="0.45"/>
<rect x="466.9" y="559.51" width="1.4" height="119.04" fill="#4d934d" opacity="0.4"/>
<rect x="468.3" y="559.51" width="2.3" height="119.04" fill="#4d934d"/>
<rect x="470.6" y="559.51" width="2.9" height="119.04" fill="#4d934d" opacity="0.55"/>
<rect x="473.5" y="559.51" width="10.8" height="119.04" fill="#4d934d"/>
<rect x="484.3" y="559.51" width="1.3" height="119.04" fill="#4d934d" opacity="0.6"/>
<rect x="485.6" y="559.51" width="4.6" height="119.04" fill="#4d934d"/>
<rect x="455.2" y="440.47" width="1.2" height="119.04" fill="#4d934d" opacity="0.45"/>
<rect x="458.4" y="440.47" width="1.2" height="119.04" fill="#4d934d" opacity="0.45"/>
<rect x="466.9" y="321.44" width="1.7" height="238.08" fill="#4d934d" opacity="0.4"/>
<rect x="469.6" y="440.47" width="1.6" height="119.04" fill="#4d934d" opacity="0.45"/>
<rect x="474.7" y="440.47" width="1.7" height="119.04" fill="#4d934d" opacity="0.45"/>
<rect x="476.4" y="440.47" width="1.2" height="119.04" fill="#4d934d"/>
<rect x="477.6" y="440.47" width="1.7" height="119.04" fill="#4d934d" opacity="0.65"/>
<rect x="479.3" y="440.47" width="1.5" height="119.04" fill="#4d934d"/>
<rect x="480.8" y="440.47" width="0.9" height="119.04" fill="#4d934d" opacity="0.5"/>
<rect x="481.7" y="440.47" width="0.9" height="119.04" fill="#4d934d"/>
<rect x="482.6" y="440.47" width="2.9" height="119.04" fill="#4d934d" opacity="0.6"/>
<rect x="485.6" y="440.47" width="1.9" height="119.04" fill="#4d934d"/>
<rect x="485.8" y="202.4" width="1.4" height="238.08" fill="#4d934d"/>
<rect x="488.7" y="321.44" width="1.7" height="238.08" fill="#4d934d"/>
<rect x="477" y="321.44" width="1.5" height="119.04" fill="#4d934d" opacity="0.4"/>
<rect x="479.9" y="202.4" width="1.6" height="238.08" fill="#4d934d" opacity="0.4"/>
<rect x="486.5" y="83.36" width="0.9" height="119.04" fill="#4d934d" opacity="0.85"/>
<path d="M307.19 678.55V53.6" stroke="#800080" stroke-width="3.4" stroke-dasharray="12.2 5.72" fill="none"/>
<path d="M327.68 678.55V53.6" stroke="#800080" stroke-width="3.4" stroke-dasharray="12.2 5.72" fill="none"/>
<path d="M737.56 678.55V53.6" stroke="#800080" stroke-width="3.4" stroke-dasharray="12.2 5.72" fill="none"/>
</g>
<text transform="translate(297.29 231.95) rotate(-90)" x="-139.01" y="0" font-size="18.9" fill="#000" textLength="45.72" lengthAdjust="spacingAndGlyphs">Zeng</text>
<text transform="translate(297.29 231.95) rotate(-90)" x="-87.12" y="0" font-size="18.9" fill="#000" textLength="17.78" lengthAdjust="spacingAndGlyphs">et</text>
<text transform="translate(297.29 231.95) rotate(-90)" x="-63.13" y="0" font-size="18.9" fill="#000" textLength="21.37" lengthAdjust="spacingAndGlyphs">al.</text>
<text transform="translate(297.29 231.95) rotate(-90)" x="-35.9" y="0" font-size="18.9" fill="#000" textLength="59.81" lengthAdjust="spacingAndGlyphs">[2019]</text>
<text transform="translate(297.29 231.95) rotate(-90)" x="30.12" y="0" font-size="18.9" fill="#000" textLength="44.98" lengthAdjust="spacingAndGlyphs">1978</text>
<text transform="translate(297.29 231.95) rotate(-90) translate(81.21 0) scale(1.0319 1)" font-size="18.9" fill="#000">-</text>
<text transform="translate(297.29 231.95) rotate(-90)" x="93.75" y="0" font-size="18.9" fill="#000" textLength="44.83" lengthAdjust="spacingAndGlyphs">2003</text>
<text transform="translate(346.58 233) rotate(-90)" x="-150.99" y="0" font-size="18.9" fill="#000" textLength="69.62" lengthAdjust="spacingAndGlyphs">Vautard</text>
<text transform="translate(346.58 233) rotate(-90)" x="-75.26" y="0" font-size="18.9" fill="#000" textLength="17.78" lengthAdjust="spacingAndGlyphs">et</text>
<text transform="translate(346.58 233) rotate(-90)" x="-51.27" y="0" font-size="18.9" fill="#000" textLength="21.37" lengthAdjust="spacingAndGlyphs">al.</text>
<text transform="translate(346.58 233) rotate(-90)" x="-24.04" y="0" font-size="18.9" fill="#000" textLength="59.81" lengthAdjust="spacingAndGlyphs">[2010]</text>
<text transform="translate(346.58 233) rotate(-90)" x="41.98" y="0" font-size="18.9" fill="#000" textLength="44.99" lengthAdjust="spacingAndGlyphs">1979</text>
<text transform="translate(346.58 233) rotate(-90) translate(93.06 0) scale(1.0319 1)" font-size="18.9" fill="#000">-</text>
<text transform="translate(346.58 233) rotate(-90)" x="105.6" y="0" font-size="18.9" fill="#000" textLength="45.11" lengthAdjust="spacingAndGlyphs">2008</text>
<text transform="translate(728.06 231.95) rotate(-90)" x="-139.01" y="0" font-size="18.9" fill="#000" textLength="45.72" lengthAdjust="spacingAndGlyphs">Zeng</text>
<text transform="translate(728.06 231.95) rotate(-90)" x="-87.12" y="0" font-size="18.9" fill="#000" textLength="17.78" lengthAdjust="spacingAndGlyphs">et</text>
<text transform="translate(728.06 231.95) rotate(-90)" x="-63.13" y="0" font-size="18.9" fill="#000" textLength="21.37" lengthAdjust="spacingAndGlyphs">al.</text>
<text transform="translate(728.06 231.95) rotate(-90)" x="-35.9" y="0" font-size="18.9" fill="#000" textLength="59.81" lengthAdjust="spacingAndGlyphs">[2019]</text>
<text transform="translate(728.06 231.95) rotate(-90)" x="29.99" y="0" font-size="18.9" fill="#000" textLength="45.08" lengthAdjust="spacingAndGlyphs">2004</text>
<text transform="translate(728.06 231.95) rotate(-90) translate(81.21 0) scale(1.0319 1)" font-size="18.9" fill="#000">-</text>
<text transform="translate(728.06 231.95) rotate(-90)" x="93.74" y="0" font-size="18.9" fill="#000" textLength="44.94" lengthAdjust="spacingAndGlyphs">2017</text>
<rect x="102.25" y="53.6" width="819.75" height="624.95" fill="none" stroke="#000" stroke-width="2"/>
<text transform="translate(102.25 711)" x="-33.3" y="0" font-size="23.81" fill="#000" textLength="67.11" lengthAdjust="spacingAndGlyphs">−0.20</text>
<text transform="translate(204.72 711)" x="-33.29" y="0" font-size="23.81" fill="#000" textLength="66.78" lengthAdjust="spacingAndGlyphs">−0.15</text>
<text transform="translate(307.19 711)" x="-33.3" y="0" font-size="23.81" fill="#000" textLength="67.11" lengthAdjust="spacingAndGlyphs">−0.10</text>
<text transform="translate(409.66 711)" x="-33.29" y="0" font-size="23.81" fill="#000" textLength="66.78" lengthAdjust="spacingAndGlyphs">−0.05</text>
<text transform="translate(512.12 711)" x="-24.49" y="0" font-size="23.81" fill="#000" textLength="48.84" lengthAdjust="spacingAndGlyphs">0.00</text>
<text transform="translate(614.59 711)" x="-24.48" y="0" font-size="23.81" fill="#000" textLength="48.51" lengthAdjust="spacingAndGlyphs">0.05</text>
<text transform="translate(717.06 711)" x="-24.49" y="0" font-size="23.81" fill="#000" textLength="48.84" lengthAdjust="spacingAndGlyphs">0.10</text>
<text transform="translate(819.53 711)" x="-24.48" y="0" font-size="23.81" fill="#000" textLength="48.51" lengthAdjust="spacingAndGlyphs">0.15</text>
<text transform="translate(922 711)" x="-24.49" y="0" font-size="23.81" fill="#000" textLength="48.84" lengthAdjust="spacingAndGlyphs">0.20</text>
<text transform="translate(86.7 686.7) translate(-14.32 0) scale(1.0762 1)" font-size="23.81" fill="#000">0</text>
<text transform="translate(86.7 582.2) translate(-14.53 0) scale(1.0762 1)" font-size="23.81" fill="#000">2</text>
<text transform="translate(86.7 477.7) translate(-14.18 0) scale(1.0762 1)" font-size="23.81" fill="#000">4</text>
<text transform="translate(86.7 373.2) translate(-14.27 0) scale(1.0762 1)" font-size="23.81" fill="#000">6</text>
<text transform="translate(86.7 268.7) translate(-14.32 0) scale(1.0762 1)" font-size="23.81" fill="#000">8</text>
<text transform="translate(86.7 164.2)" x="-27.88" y="0" font-size="23.81" fill="#000" textLength="27.28" lengthAdjust="spacingAndGlyphs">10</text>
<text transform="translate(937.9 686.7) translate(-0.06 0) scale(1.0762 1)" font-size="23.81" fill="#000">0</text>
<text transform="translate(937.9 555.81)" x="0.7" y="0" font-size="23.81" fill="#000" textLength="27.2" lengthAdjust="spacingAndGlyphs">50</text>
<text transform="translate(937.9 424.92)" x="0.59" y="0" font-size="23.81" fill="#000" textLength="41.7" lengthAdjust="spacingAndGlyphs">100</text>
<text transform="translate(937.9 294.03)" x="0.59" y="0" font-size="23.81" fill="#000" textLength="41.7" lengthAdjust="spacingAndGlyphs">150</text>
<text transform="translate(937.9 163.14)" x="0.43" y="0" font-size="23.81" fill="#000" textLength="41.87" lengthAdjust="spacingAndGlyphs">200</text>
<path d="M102.25 678.55v8.6M204.72 678.55v8.6M307.19 678.55v8.6M409.66 678.55v8.6M512.12 678.55v8.6M614.59 678.55v8.6M717.06 678.55v8.6M819.53 678.55v8.6M922 678.55v8.6M102.25 678.55h-8.6M102.25 574.05h-8.6M102.25 469.55h-8.6M102.25 365.05h-8.6M102.25 260.55h-8.6M102.25 156.05h-8.6M922 678.55h8.6M922 547.66h8.6M922 416.77h8.6M922 285.88h8.6M922 154.99h8.6" stroke="#000" stroke-width="2" fill="none"/>
<text transform="translate(0 40)" x="176.5" y="0" font-size="28.35" fill="#000" textLength="85.33" lengthAdjust="spacingAndGlyphs">rcp85:</text>
<text transform="translate(0 40)" x="271.49" y="0" font-size="28.35" fill="#000" textLength="58.99" lengthAdjust="spacingAndGlyphs">49%</text>
<text transform="translate(0 40)" x="339.66" y="0" font-size="28.35" fill="#000" textLength="26.24" lengthAdjust="spacingAndGlyphs">of</text>
<text transform="translate(0 40)" x="374.74" y="0" font-size="28.35" fill="#000" textLength="73.54" lengthAdjust="spacingAndGlyphs">years</text>
<text transform="translate(0 40)" x="457.54" y="0" font-size="28.35" fill="#000" textLength="91.38" lengthAdjust="spacingAndGlyphs">belong</text>
<text transform="translate(0 40)" x="558.03" y="0" font-size="28.35" fill="#000" textLength="26.74" lengthAdjust="spacingAndGlyphs">to</text>
<text transform="translate(0 40) translate(592.56 0) scale(1.0494 1)" font-size="28.35" fill="#000">a</text>
<text transform="translate(0 40)" x="619.28" y="0" font-size="28.35" fill="#000" textLength="33.16" lengthAdjust="spacingAndGlyphs">20</text>
<text transform="translate(0 40)" x="658.34" y="0" font-size="28.35" fill="#000" textLength="27.21" lengthAdjust="spacingAndGlyphs">yr</text>
<text transform="translate(0 40)" x="693.91" y="0" font-size="28.35" fill="#000" textLength="72.05" lengthAdjust="spacingAndGlyphs">trend</text>
<text transform="translate(0 40)" x="775.51" y="0" font-size="28.35" fill="#000" textLength="85.97" lengthAdjust="spacingAndGlyphs">period</text>
<text transform="translate(0 745)" x="129.21" y="0" font-size="28.35" fill="#000" textLength="142.64" lengthAdjust="spacingAndGlyphs">Significant</text>
<text transform="translate(0 745)" x="281.9" y="0" font-size="28.35" fill="#000" textLength="62.74" lengthAdjust="spacingAndGlyphs">wind</text>
<text transform="translate(0 745)" x="354.27" y="0" font-size="28.35" fill="#000" textLength="80.9" lengthAdjust="spacingAndGlyphs">speed</text>
<text transform="translate(0 745)" x="444.58" y="0" font-size="28.35" fill="#000" textLength="86.14" lengthAdjust="spacingAndGlyphs">trends</text>
<text transform="translate(0 745)" x="539.89" y="0" font-size="28.35" fill="#000" textLength="26.69" lengthAdjust="spacingAndGlyphs">at</text>
<text transform="translate(0 745)" x="575.9" y="0" font-size="28.35" fill="#000" textLength="33.01" lengthAdjust="spacingAndGlyphs">95</text>
<text transform="translate(0 745) translate(610.11 0) scale(1.0178 1)" font-size="28.35" fill="#000">%</text>
<text transform="translate(0 745)" x="645.16" y="0" font-size="28.35" fill="#000" textLength="63.82" lengthAdjust="spacingAndGlyphs">level</text>
<text transform="translate(0 745)" x="718.22" y="0" font-size="28.35" fill="#000" textLength="180.21" lengthAdjust="spacingAndGlyphs">[m/s/decade]</text>
<text transform="translate(42.4 366.07) rotate(-90)" x="-164.29" y="0" font-size="28.35" fill="#ff8c00" textLength="51.56" lengthAdjust="spacingAndGlyphs">PDF</text>
<text transform="translate(42.4 366.07) rotate(-90)" x="-103.47" y="0" font-size="28.35" fill="#ff8c00" textLength="131.67" lengthAdjust="spacingAndGlyphs">ensemble</text>
<text transform="translate(42.4 366.07) rotate(-90)" x="37.24" y="0" font-size="28.35" fill="#ff8c00" textLength="127.46" lengthAdjust="spacingAndGlyphs">members</text>
<text transform="translate(1009.7 366.07) rotate(-90)" x="-138.51" y="0" font-size="28.35" fill="#006400" textLength="51.56" lengthAdjust="spacingAndGlyphs">PDF</text>
<text transform="translate(1009.7 366.07) rotate(-90)" x="-77.69" y="0" font-size="28.35" fill="#006400" textLength="131.67" lengthAdjust="spacingAndGlyphs">ensemble</text>
<text transform="translate(1009.7 366.07) rotate(-90)" x="63.04" y="0" font-size="28.35" fill="#006400" textLength="75.81" lengthAdjust="spacingAndGlyphs">mean</text>
<text transform="translate(0 45.8)" x="19.35" y="0" font-size="23.9" fill="#000" font-weight="bold" textLength="34.36" lengthAdjust="spacingAndGlyphs">(<tspan dy="0.9">d</tspan><tspan dy="-0.9">)</tspan></text>
</g>
</g>
</svg></body></html>
